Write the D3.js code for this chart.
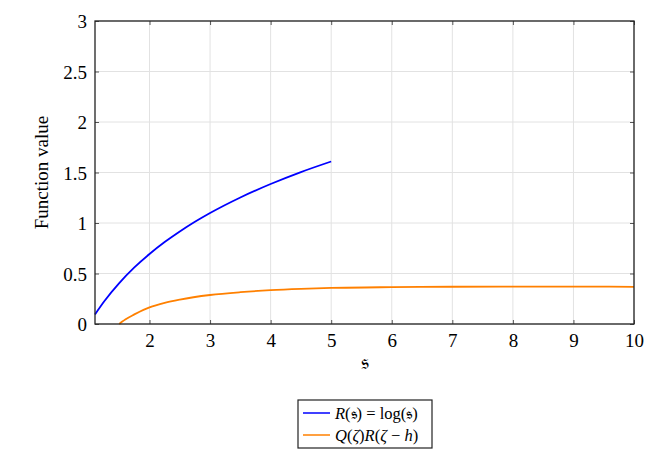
<!DOCTYPE html>
<html>
<head>
<meta charset="utf-8">
<script src="https://cdn.jsdelivr.net/npm/d3@7"></script>
<style>
  body { margin: 0; background: #fff; }
  svg { font-family: "Liberation Serif", "DejaVu Serif", serif; }
</style>
</head>
<body>
<svg class="chart"></svg>
<script>
// data
var xTicks = [2, 3, 4, 5, 6, 7, 8, 9, 10];
var yTicks = [0, 0.5, 1, 1.5, 2, 2.5, 3];
var blueS = [1.1, 1.25, 1.5, 1.75, 2, 2.25, 2.5, 2.75, 3, 3.5, 4, 4.5, 5];
var blueV = [0.095, 0.223, 0.405, 0.56, 0.693, 0.811, 0.916, 1.012, 1.099, 1.253, 1.386, 1.504, 1.609];
var orangeS = [1.5, 1.55, 1.6, 1.75, 1.9, 2, 2.25, 2.5, 3, 3.5, 4, 4.5, 5, 6, 7, 8, 9, 10];
var orangeV = [0, 0.024, 0.045, 0.095, 0.14, 0.165, 0.21, 0.242, 0.287, 0.315, 0.335, 0.348, 0.357, 0.365, 0.369, 0.37, 0.37, 0.368];
// legend pieces: [text, italic?]
var legendParts = [
    [["R", 1], ["(\u{1D530}) = log(\u{1D530})", 0]],
    [["Q", 1], ["(", 0], ["\u03B6", 1], [")", 0], ["R", 1], ["(", 0], ["\u03B6", 1], [" \u2212 ", 0], ["h", 1], [")", 0]]
];

var SERIF = "Liberation Serif";
var W = 666, H = 455;
var margin = {top: 21, left: 95, right: 32, bottom: 131};
var width = W - margin.left - margin.right,
    height = H - margin.top - margin.bottom;

var svg = d3.select(".chart").attr("width", W).attr("height", H);
var g = svg.append("g").attr("transform", "translate(" + margin.left + "," + margin.top + ")");

var x = d3.scaleLinear().domain([1.1, 10]).range([0, width]);
var y = d3.scaleLinear().domain([0, 3]).range([height, 0]);

// grid
g.append("g").selectAll("line").data(xTicks).enter().append("line")
    .attr("x1", function(d) { return x(d); }).attr("x2", function(d) { return x(d); })
    .attr("y1", 0).attr("y2", height)
    .attr("stroke", "#e2e2e2").attr("stroke-width", 1);
g.append("g").selectAll("line").data(yTicks).enter().append("line")
    .attr("y1", function(d) { return y(d); }).attr("y2", function(d) { return y(d); })
    .attr("x1", 0).attr("x2", width)
    .attr("stroke", "#e2e2e2").attr("stroke-width", 1);

// axes with inner ticks
var fmt = function(d) { return String(d); };
var xAx = g.append("g").attr("transform", "translate(0," + height + ")")
    .call(d3.axisBottom(x).tickValues(xTicks).tickSizeInner(-4).tickSizeOuter(0).tickPadding(10).tickFormat(fmt));
var yAx = g.append("g")
    .call(d3.axisLeft(y).tickValues(yTicks).tickSizeInner(-4).tickSizeOuter(0).tickPadding(8).tickFormat(fmt));
g.append("g").call(d3.axisTop(x).tickValues(xTicks).tickSizeInner(-4).tickSizeOuter(0).tickFormat(""));
g.append("g").attr("transform", "translate(" + width + ",0)")
    .call(d3.axisRight(y).tickValues(yTicks).tickSizeInner(-4).tickSizeOuter(0).tickFormat(""));
g.selectAll(".domain").remove();
g.selectAll(".tick line").attr("stroke", "#555");
xAx.attr("font-family", SERIF).attr("font-size", 19);
yAx.attr("font-family", SERIF).attr("font-size", 19);
xAx.selectAll("text").attr("dy", "0.71em").attr("fill", "#000");
yAx.selectAll("text").attr("dy", "0.35em").attr("fill", "#000");

var line = d3.line().curve(d3.curveMonotoneX)
    .x(function(d) { return x(d[0]); }).y(function(d) { return y(d[1]); });

g.append("path").datum(d3.zip(blueS, blueV))
    .attr("d", line).attr("fill", "none").attr("stroke", "#0000ff").attr("stroke-width", 1.8);
g.append("path").datum(d3.zip(orangeS, orangeV))
    .attr("d", line).attr("fill", "none").attr("stroke", "#ff8000").attr("stroke-width", 1.8);

// frame
g.append("rect").attr("width", width).attr("height", height)
    .attr("fill", "none").attr("stroke", "#222").attr("stroke-width", 1.3);

// axis labels
g.append("text").attr("x", width / 2).attr("y", height + 45)
    .attr("text-anchor", "middle").attr("font-size", 21).text("\u{1D530}");
svg.append("text")
    .attr("transform", "translate(48," + (margin.top + height / 2) + ") rotate(-90)")
    .attr("text-anchor", "middle").attr("font-family", SERIF).attr("font-size", 19).text("Function value");

// legend
var leg = svg.append("g").attr("transform", "translate(298,400)");
leg.append("rect").attr("width", 134).attr("height", 48)
    .attr("fill", "#fff").attr("stroke", "#222").attr("stroke-width", 1.2);
var legColors = ["#0000ff", "#ff8000"];
legendParts.forEach(function(parts, i) {
    var ly = 13 + i * 22;
    leg.append("line").attr("x1", 5).attr("x2", 32).attr("y1", ly).attr("y2", ly)
        .attr("stroke", legColors[i]).attr("stroke-width", 1.5);
    var t = leg.append("text").attr("x", 37).attr("y", ly).attr("dy", "0.35em")
        .attr("font-family", SERIF).attr("font-size", 16.5);
    parts.forEach(function(p) {
        t.append("tspan").attr("font-style", p[1] ? "italic" : "normal").text(p[0]);
    });
});
</script>
</body>
</html>
